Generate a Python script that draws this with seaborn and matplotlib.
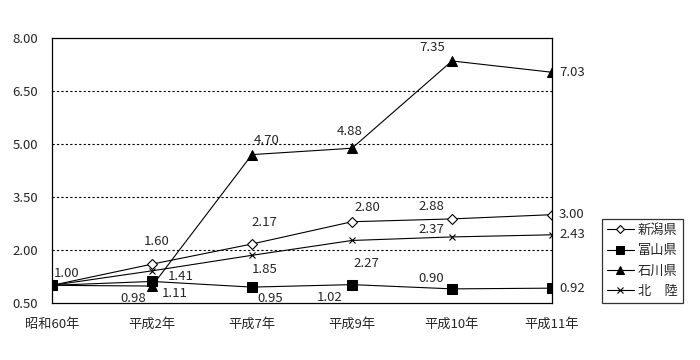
import numpy as np
import pandas as pd
import matplotlib
matplotlib.use("Agg")
import matplotlib.pyplot as plt
import seaborn as sns

# data
years = ["昭和60年", "平成2年", "平成7年", "平成9年", "平成10年", "平成11年"]
niigata = [1.00, 1.60, 2.17, 2.80, 2.88, 3.00]
toyama = [1.00, 1.11, 0.95, 1.02, 0.90, 0.92]
ishikawa = [1.00, 0.98, 4.70, 4.88, 7.35, 7.03]
hokuriku = [1.00, 1.41, 1.85, 2.27, 2.37, 2.43]
names = ["新潟県", "富山県", "石川県", "北　陸"]

sns.set_theme(style="white")
plt.rcParams["font.family"] = ["Noto Sans CJK JP", "DejaVu Sans"]
plt.rcParams["font.size"] = 9.5
fs = 9.5

fig = plt.figure(figsize=(7, 3.6), dpi=100)
ax = fig.add_axes([52 / 700, 57 / 360, 500 / 700, 265 / 360])

x = np.arange(len(years))
styles = [
    dict(marker="D", markersize=5, markerfacecolor="white", markeredgecolor="black", markeredgewidth=0.8),
    dict(marker="s", markersize=6.5, markerfacecolor="black", markeredgecolor="black"),
    dict(marker="^", markersize=7, markerfacecolor="black", markeredgecolor="black"),
    dict(marker="x", markersize=5, markeredgecolor="black", markeredgewidth=0.8),
]
series = [niigata, toyama, ishikawa, hokuriku]
for vals, nm, st in zip(series, names, styles):
    sns.lineplot(x=x, y=vals, ax=ax, color="black", linewidth=0.8, label=nm, **st)

# value labels (offsets in pixels, placement only)
offs = {
    0: [(15, 12), (5, 23), (12, 21), (15, 14), (-21, 12), None],
    1: [None, (23, -12), (18, -11), (-22, -13), (-21, 10), None],
    2: [None, (-19, -12), (15, 14), (-2, 17), (-20, 13), None],
    3: [None, (29, -6), (13, -14), (14, -23), (-21, 7), None],
}
for k, vals in enumerate(series):
    for i, v in enumerate(vals):
        o = offs[k][i]
        if i == len(vals) - 1:
            ax.annotate(f"{v:.2f}", (x[i], v), xytext=(7, 0), textcoords="offset pixels",
                        ha="left", va="center", fontsize=fs, annotation_clip=False)
        elif o is not None:
            ax.annotate(f"{v:.2f}", (x[i], v), xytext=o, textcoords="offset pixels",
                        ha="center", va="center", fontsize=fs)

ax.set_xlim(0, len(years) - 1)
ax.set_ylim(0.5, 8.0)
ax.set_xticks(x)
ax.set_xticklabels(years)
yt = [0.5, 2.0, 3.5, 5.0, 6.5, 8.0]
ax.set_yticks(yt)
ax.set_yticklabels([f"{t:.2f}" for t in yt])
for t in yt[1:-1]:
    ax.axhline(t, color="black", linestyle=(0, (2, 2)), linewidth=0.8, zorder=0)
for s in ax.spines.values():
    s.set_visible(True)
    s.set_color("black")
    s.set_linewidth(0.9)
ax.tick_params(axis="x", length=3, direction="out", color="black", pad=8, labelsize=fs)
ax.tick_params(axis="y", length=0, pad=10, labelsize=fs)
ax.set_xlabel("")
ax.set_ylabel("")

leg = ax.legend(loc="lower left", bbox_to_anchor=(1.1, 0.0), borderaxespad=0,
                frameon=True, fancybox=False, edgecolor="black", fontsize=fs,
                handlelength=2.0, handletextpad=0.3, labelspacing=0.55, borderpad=0.4,
                markerscale=0.8)
leg.get_frame().set_linewidth(0.9)

fig.savefig("out.png", dpi=100, facecolor="white")
